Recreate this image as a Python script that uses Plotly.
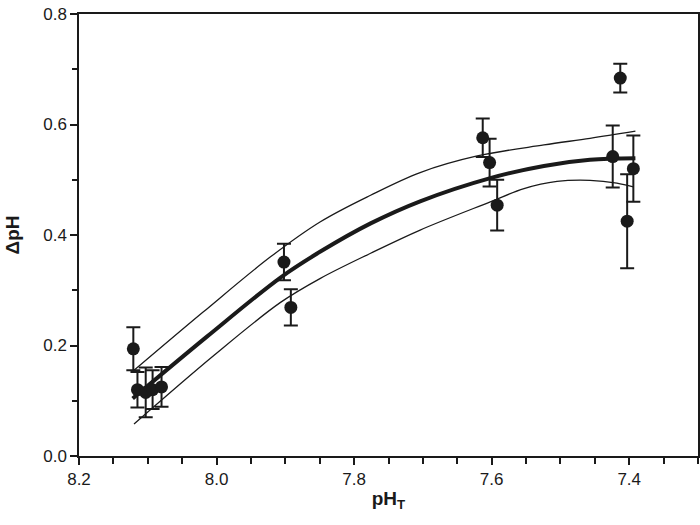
import plotly.graph_objects as go

# Measured data (pH_T, ΔpH, error)
ph_t = [8.121, 8.115, 8.103, 8.093, 8.080, 7.902, 7.892, 7.613, 7.603, 7.592, 7.424, 7.413, 7.403, 7.394]
delta_ph = [0.194, 0.120, 0.115, 0.120, 0.125, 0.351, 0.269, 0.576, 0.531, 0.454, 0.542, 0.684, 0.425, 0.520]
delta_err = [0.039, 0.032, 0.045, 0.035, 0.036, 0.033, 0.033, 0.035, 0.043, 0.046, 0.056, 0.026, 0.085, 0.060]

# Fitted curve
fit_x = [8.122, 8.014, 7.907, 7.849, 7.776, 7.704, 7.602, 7.524, 7.457, 7.391]
fit_y = [0.104, 0.216, 0.323, 0.370, 0.421, 0.461, 0.503, 0.525, 0.536, 0.539]

# Upper confidence band
upper_x = [8.120, 8.020, 7.922, 7.849, 7.776, 7.704, 7.621, 7.524, 7.457, 7.391]
upper_y = [0.155, 0.260, 0.360, 0.424, 0.472, 0.513, 0.543, 0.563, 0.575, 0.588]

# Lower confidence band
lower_x = [8.120, 8.004, 7.907, 7.849, 7.776, 7.704, 7.602, 7.553, 7.505, 7.457, 7.418, 7.394]
lower_y = [0.058, 0.182, 0.278, 0.3216, 0.367, 0.409, 0.460, 0.484, 0.497, 0.499, 0.494, 0.487]

x_ticks = [8.2, 8.0, 7.8, 7.6, 7.4]
y_ticks = [0.0, 0.2, 0.4, 0.6, 0.8]

ink = "#1a1a1a"
font_family = "Arial, Liberation Sans, Helvetica, sans-serif"

fig = go.Figure()
fig.add_trace(go.Scatter(x=upper_x, y=upper_y, mode="lines",
                         line=dict(color=ink, width=1.3, shape="spline"), showlegend=False))
fig.add_trace(go.Scatter(x=lower_x, y=lower_y, mode="lines",
                         line=dict(color=ink, width=1.3, shape="spline"), showlegend=False))
fig.add_trace(go.Scatter(x=fit_x, y=fit_y, mode="lines",
                         line=dict(color=ink, width=4, shape="spline"), showlegend=False))
fig.add_trace(go.Scatter(
    x=ph_t, y=delta_ph, mode="markers",
    marker=dict(color=ink, size=13, line=dict(width=0)),
    error_y=dict(type="data", array=delta_err, visible=True, color=ink, thickness=2, width=7),
    showlegend=False))

axis_common = dict(
    showline=True, linecolor=ink, linewidth=1.5, mirror=True,
    ticks="outside", ticklen=7, tickwidth=1.5, tickcolor=ink,
    showgrid=False, zeroline=False, automargin=False,
    tickfont=dict(family=font_family, size=17, color=ink),
)

fig.update_xaxes(
    range=[8.2, 7.3], tickvals=x_ticks, ticktext=[f"{v:.1f}" for v in x_ticks],
    minor=dict(dtick=0.05, tick0=7.3, ticks="outside", ticklen=6, tickwidth=1.5, tickcolor=ink),
    title=dict(text="<b>pH<sub>T</sub></b>", font=dict(family=font_family, size=19, color=ink), standoff=4),
    **axis_common)
fig.update_yaxes(
    range=[0.0, 0.8], tickvals=y_ticks, ticktext=[f"{v:.1f}" for v in y_ticks],
    minor=dict(dtick=0.1, ticks="outside", ticklen=5, tickwidth=1.5, tickcolor=ink),
    title=dict(text="<b>ΔpH</b>", font=dict(family=font_family, size=19, color=ink), standoff=19),
    **axis_common)

fig.update_layout(
    width=700, height=525,
    margin=dict(l=79, r=2, t=14, b=69),
    paper_bgcolor="white", plot_bgcolor="white",
    font=dict(family=font_family, color=ink),
)

fig.write_html("out.html", config={"displayModeBar": False},
               post_script="document.body.style.margin='0';document.body.style.overflow='hidden';")
